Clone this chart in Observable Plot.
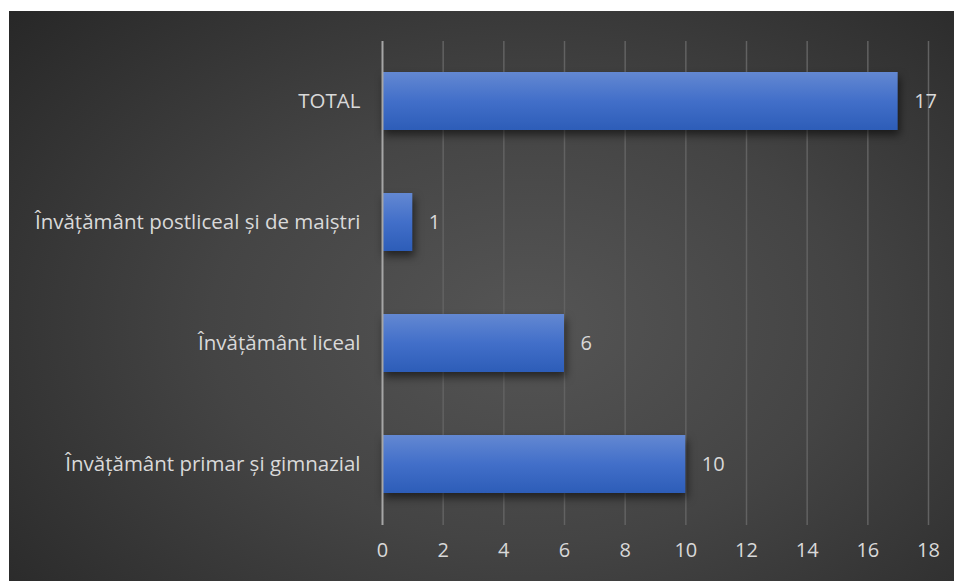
<!DOCTYPE html>
<html><head><meta charset="utf-8">
<script src="https://cdn.jsdelivr.net/npm/d3@7"></script>
<script src="https://cdn.jsdelivr.net/npm/@observablehq/plot@0.6"></script>
<style>
html,body{margin:0;padding:0;background:#fff;}
#wrap{position:relative;width:954px;height:581px;overflow:hidden;}
#bg{position:absolute;left:9px;top:11px;width:945px;height:570px;
 background:radial-gradient(ellipse 75% 85% at 55% 55%, #555555 0%, #444444 45%, #262626 100%);}
#chart{position:absolute;left:0;top:0;}
#chart svg{background:transparent;}
</style></head>
<body><div id="wrap"><div id="bg"></div><div id="chart"></div></div>
<script>
const categories = ["TOTAL", "Învățământ postliceal și de maiștri", "Învățământ liceal", "Învățământ primar și gimnazial"];
const values = [17, 1, 6, 10];
const xTicks = [0, 2, 4, 6, 8, 10, 12, 14, 16, 18];

const data = categories.map((c, i) => ({category: c, value: values[i]}));
const FONT = "'Open Sans', 'Noto Sans', sans-serif";

const chart = Plot.plot({
  width: 954, height: 581,
  marginLeft: 382, marginRight: 26, marginTop: 41, marginBottom: 56,
  style: {fontFamily: FONT, fontSize: "20px", color: "#d9d9d9", background: "transparent"},
  x: {domain: [0, 18], ticks: xTicks, label: null},
  y: {domain: categories, label: null, paddingInner: 0.52, paddingOuter: 0.26},
  marks: [
    Plot.ruleX(xTicks.filter(d => d > 0), {stroke: "#626262", strokeWidth: 1.5}),
    Plot.barX(data, {y: "category", x: "value", fill: "url(#barGrad)", className: "bars"}),
    Plot.ruleX([0], {stroke: "#a6a6a6", strokeWidth: 2}),
    Plot.text(data, {y: "category", x: "value", text: d => String(d.value), textAnchor: "start", dx: 16, fill: "#d9d9d9", fontSize: 20}),
    Plot.axisX({ticks: xTicks, tickSize: 0, tickPadding: 17, fontSize: 20, fill: "#d9d9d9", label: null}),
    Plot.axisY({tickSize: 0, tickPadding: 22, fontSize: 20.5, fill: "#d9d9d9", label: null})
  ]
});

const defs = d3.select(chart).insert("defs", ":first-child");
const g = defs.append("linearGradient").attr("id", "barGrad").attr("x1", 0).attr("y1", 0).attr("x2", 0).attr("y2", 1);
g.append("stop").attr("offset", "0%").attr("stop-color", "#6388d2");
g.append("stop").attr("offset", "50%").attr("stop-color", "#426fc9");
g.append("stop").attr("offset", "100%").attr("stop-color", "#2d5db8");
d3.select(chart).selectAll("g.bars").style("filter", "drop-shadow(2px 5px 4px rgba(0,0,0,0.55))");

document.getElementById("chart").appendChild(chart);
</script>
</body></html>
